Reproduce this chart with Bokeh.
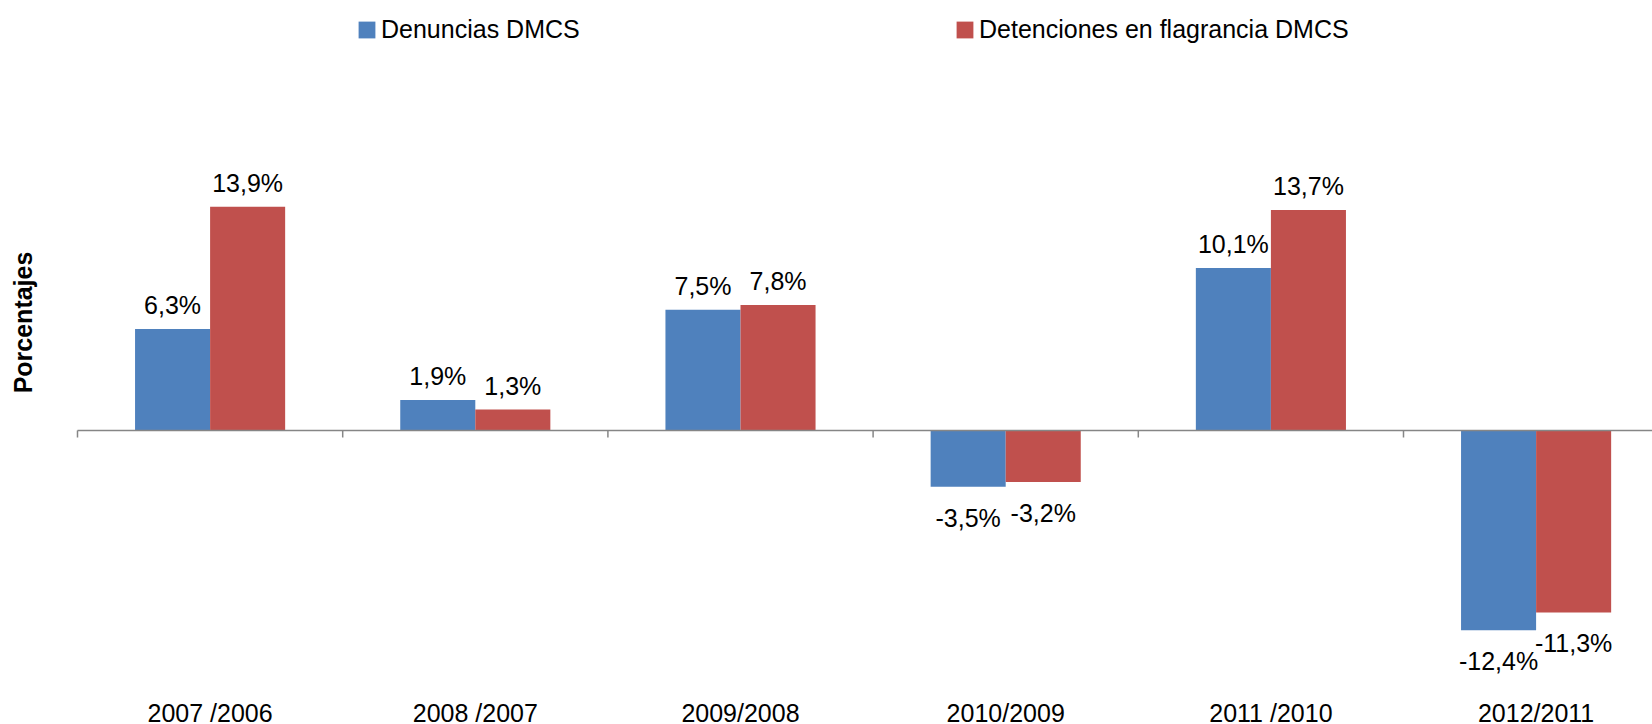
import math
from bokeh.plotting import figure
from bokeh.models import (Range1d, FixedTicker, ColumnDataSource, Legend,
                          LegendItem, Label)
from bokeh.core.properties import value
from bokeh.embed import file_html
from bokeh.resources import INLINE

categories = ["2007 /2006", "2008 /2007", "2009/2008", "2010/2009", "2011 /2010", "2012/2011"]
denuncias = [6.3, 1.9, 7.5, -3.5, 10.1, -12.4]
detenciones = [13.9, 1.3, 7.8, -3.2, 13.7, -11.3]
series_names = ["Denuncias DMCS", "Detenciones en flagrancia DMCS"]
y_title = "Porcentajes"

BLUE = "#4F81BD"
RED = "#C0504D"
AXIS = "#868686"
FONT = "Liberation Sans"

LEFT = 77          # pixels from the canvas edge to the start of the category axis
FRAME_W = 1652
FRAME_H = 690
CAT_PX = 265.2
PX_PER_UNIT = 16.1
ZERO_PX = 430

n = len(categories)
bar_w = 0.283
idx = list(range(n))


def fmt(v):
    return f"{v:.1f}".replace(".", ",") + "%"


def offs(vals):
    return [-24 if v >= 0 else 31 for v in vals]


src_b = ColumnDataSource(dict(x=[i + 0.5 - bar_w / 2 for i in idx], top=denuncias,
                              label=[fmt(v) for v in denuncias], off=offs(denuncias)))
src_r = ColumnDataSource(dict(x=[i + 0.5 + bar_w / 2 for i in idx], top=detenciones,
                              label=[fmt(v) for v in detenciones], off=offs(detenciones)))

p = figure(frame_width=FRAME_W, frame_height=FRAME_H,
           x_range=Range1d(-LEFT / CAT_PX, (FRAME_W - LEFT) / CAT_PX),
           y_range=Range1d(-(FRAME_H - ZERO_PX) / PX_PER_UNIT, ZERO_PX / PX_PER_UNIT),
           output_backend="svg", toolbar_location=None,
           y_axis_location=None,
           min_border_left=0, min_border_right=0, min_border_top=0, min_border_bottom=0)
p.outline_line_color = None
p.grid.visible = False
p.background_fill_color = "white"
p.border_fill_color = "white"

rb = p.vbar(x="x", top="top", bottom=0, width=bar_w, source=src_b,
            fill_color=BLUE, line_color=None)
rr = p.vbar(x="x", top="top", bottom=0, width=bar_w, source=src_r,
            fill_color=RED, line_color=None)

# category axis line at zero, with boundary ticks
p.segment(x0=[0], y0=[0], x1=[n], y1=[0], line_color=AXIS, line_width=1.5)
p.ray(x=idx, y=[0] * n, length=7, length_units="screen", angle=-math.pi / 2,
      line_color=AXIS, line_width=1.5)

for src in (src_b, src_r):
    p.text(x="x", y="top", text="label", source=src, y_offset="off",
           text_align="center", text_baseline="alphabetic",
           text_font=value(FONT), text_font_size="25px", text_color="black")

xa = p.xaxis[0]
xa.ticker = FixedTicker(ticks=[i + 0.5 for i in idx])
xa.major_label_overrides = {i + 0.5: c for i, c in zip(idx, categories)}
xa.axis_line_color = None
xa.major_tick_line_color = None
xa.minor_tick_line_color = None
xa.major_label_standoff = 2
xa.major_label_text_font = FONT
xa.major_label_text_font_size = "25px"
xa.major_label_text_color = "black"

for r, name, vx in ((rb, series_names[0], 356), (rr, series_names[1], 954)):
    lg = Legend(items=[LegendItem(label=name, renderers=[r])],
                location=(vx, 646), orientation="horizontal",
                border_line_color=None, background_fill_alpha=0,
                padding=0, margin=0, glyph_width=21, glyph_height=21,
                label_standoff=4, label_text_font=FONT,
                label_text_font_size="25px", label_text_color="black")
    p.add_layout(lg)

# vertical axis title near the left edge
p.add_layout(Label(x=(22 - LEFT) / CAT_PX, y=(ZERO_PX - 322) / PX_PER_UNIT, text=y_title,
                   angle=math.pi / 2, text_align="center", text_baseline="middle",
                   text_font=FONT, text_font_size="25px", text_font_style="bold",
                   text_color="black"))

open("out.html", "w").write(file_html(p, INLINE))
